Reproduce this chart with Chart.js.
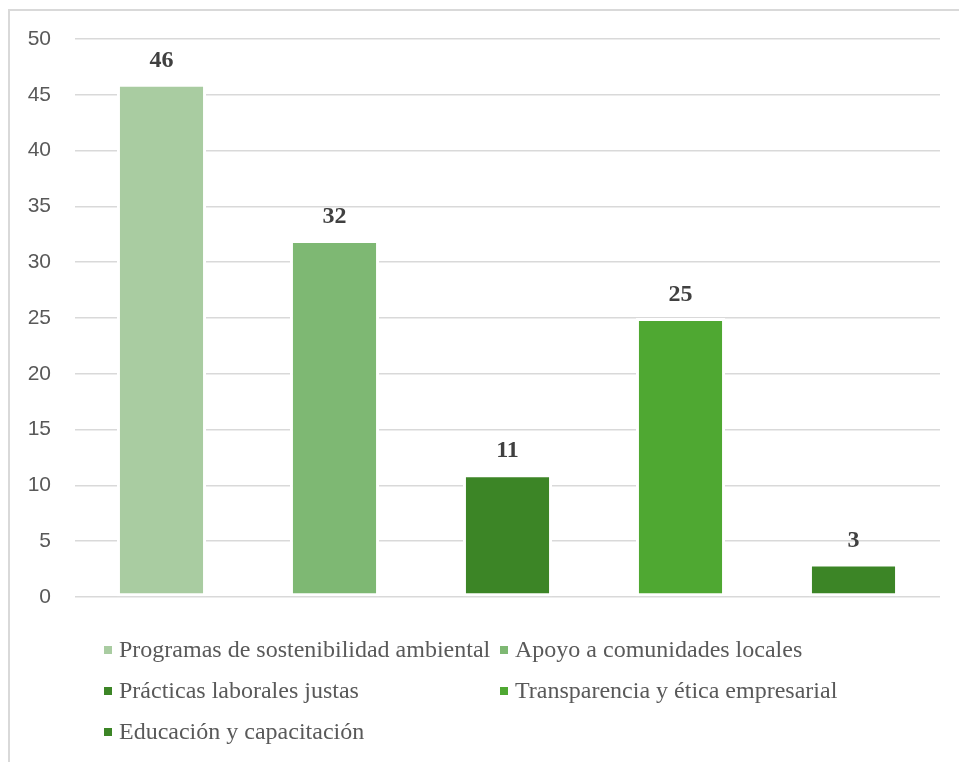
<!DOCTYPE html>
<html lang="es">
<head>
<meta charset="utf-8">
<title>Iniciativas de responsabilidad social</title>
<script src="https://cdn.jsdelivr.net/npm/chart.js@4.4.1/dist/chart.umd.min.js"></script>
<style>
    html, body { margin: 0; padding: 0; background: #fff; }
    body { width: 959px; height: 762px; position: relative; overflow: hidden; }
    .frame {
        position: absolute; left: 8px; top: 9px; right: 0; bottom: 0;
        border-top: 2px solid #d9d9d9; border-left: 2px solid #d9d9d9;
    }
    #initiativesChart { position: absolute; left: 0; top: 0; }
    .legend {
        position: absolute; left: 104px; top: 629px;
        display: grid; grid-template-columns: 396px auto; grid-auto-rows: 41px;
        font-family: "Liberation Serif", "Times New Roman", serif;
        font-size: 24px; color: #595959;
    }
    .legend-item { display: flex; align-items: center; white-space: nowrap; }
    .legend-box { width: 8px; height: 8px; margin-right: 7px; flex: none; }
</style>
</head>
<body>
<div class="frame"></div>
<canvas id="initiativesChart" width="959" height="762"></canvas>
<div class="legend" id="legend"></div>

<script>
// Categories and counts
const categories = [
    'Programas de sostenibilidad ambiental',
    'Apoyo a comunidades locales',
    'Prácticas laborales justas',
    'Transparencia y ética empresarial',
    'Educación y capacitación'
];
const values = [46, 32, 11, 25, 3];
const barColors = ['#a9cca1', '#7eb873', '#3c8526', '#4fa832', '#3c8526'];

// Y axis settings
const yMin = 0;
const yMax = 50;
const yStep = 5;

// Draws the number above each bar
const valueLabels = {
    id: 'valueLabels',
    afterDatasetsDraw(chart) {
        const ctx = chart.ctx;
        const meta = chart.getDatasetMeta(0);
        ctx.save();
        ctx.font = 'bold 24px "Liberation Serif", "Times New Roman", serif';
        ctx.fillStyle = '#404040';
        ctx.textAlign = 'center';
        ctx.textBaseline = 'middle';
        meta.data.forEach((bar, i) => {
            ctx.fillText(String(values[i]), bar.x, bar.y - 23);
        });
        ctx.restore();
    }
};

const ctx = document.getElementById('initiativesChart').getContext('2d');
const chart = new Chart(ctx, {
    type: 'bar',
    data: {
        labels: categories,
        datasets: [{
            data: values,
            backgroundColor: barColors,
            borderColor: '#ffffff',
            borderWidth: 3,
            borderSkipped: false,
            categoryPercentage: 1,
            barPercentage: 0.515
        }]
    },
    options: {
        responsive: false,
        devicePixelRatio: 1,
        animation: false,
        layout: {
            padding: { left: 0, top: 39, right: 19, bottom: 165 }
        },
        plugins: {
            legend: { display: false },
            tooltip: { enabled: false }
        },
        scales: {
            x: { display: false },
            y: {
                min: yMin,
                max: yMax,
                border: { display: false },
                grid: { color: '#d9d9d9', lineWidth: 1.5, drawTicks: false },
                ticks: {
                    stepSize: yStep,
                    padding: 24,
                    color: '#595959',
                    font: { family: '"Liberation Sans", Arial, sans-serif', size: 21 }
                },
                afterFit(scale) {
                    scale.width = 75;
                }
            }
        }
    },
    plugins: [valueLabels]
});

// Legend laid out in two columns like the original sheet
const legendEl = document.getElementById('legend');
legendEl.innerHTML = categories.map((name, i) => `
    <div class="legend-item">
        <span class="legend-box" style="background:${barColors[i]}"></span>
        <span>${name}</span>
    </div>
`).join('');
</script>
</body>
</html>
